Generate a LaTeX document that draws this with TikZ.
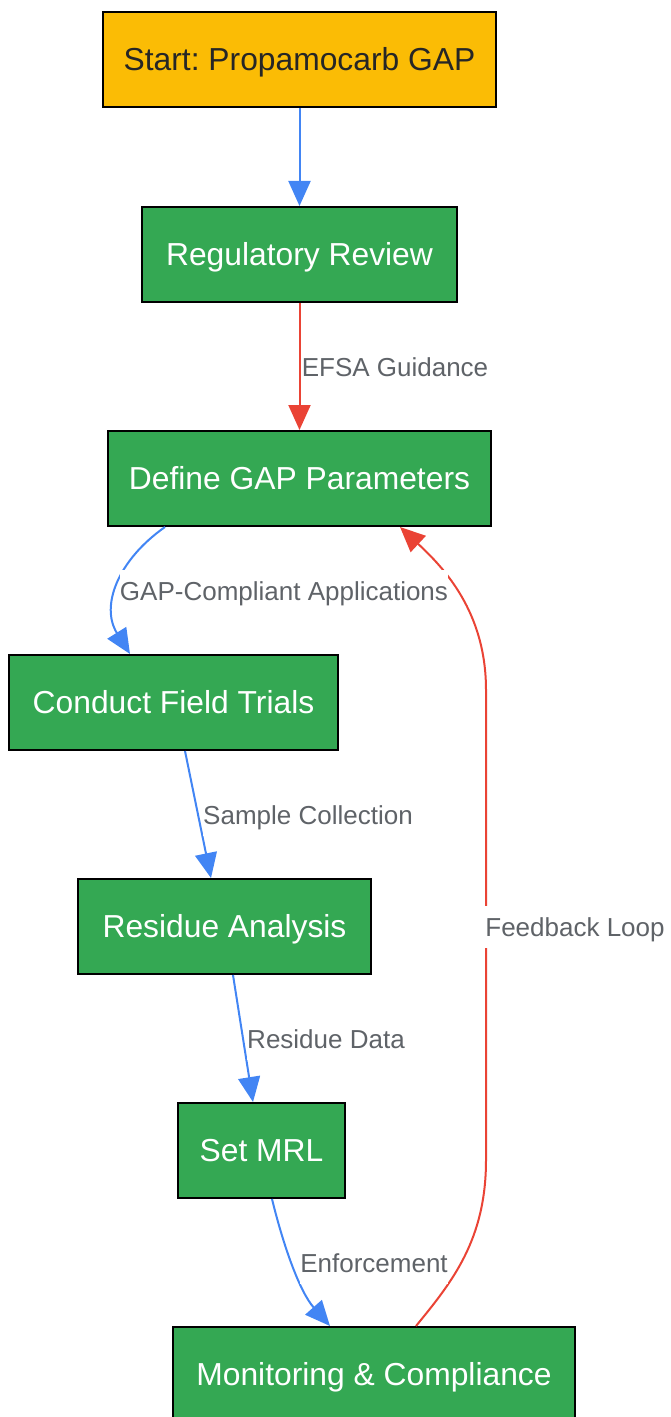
\documentclass[tikz,border=0pt]{standalone}
\usepackage{fontspec}
\setmainfont{Liberation Sans}
\usetikzlibrary{arrows.meta}
\frenchspacing

\definecolor{gapyellow}{HTML}{FBBC05}
\definecolor{gapgreen}{HTML}{34A853}
\definecolor{gapblue}{HTML}{4285F4}
\definecolor{gapred}{HTML}{EA4335}
\definecolor{labelgray}{HTML}{5F6368}

\begin{document}
\begin{tikzpicture}[x=0.5pt, y=-0.5pt, >={Triangle[length=12.5pt,width=11pt]}]
\tikzset{ stage/.style={draw=black, line width=1pt, fill=gapgreen, text=white,
                        minimum height=47.5pt, inner sep=0pt,
                        text height=11.4pt, text depth=0pt,
                        font=\fontsize{15.9}{19}\selectfont},
          flow/.style={->, line width=1pt, draw=gapblue},
          back/.style={->, line width=1pt, draw=gapred},
          tag/.style={fill=white, text=labelgray, inner xsep=0pt, inner ysep=6pt,
                      text height=9.3pt, text depth=0pt,
                      font=\fontsize{13}{15.6}\selectfont} };

\useasboundingbox (0,0) rectangle (670,1417);

\node[stage, fill=gapyellow, text=black!85, minimum width=196.5pt] (start) at (299.5,59.5) {Start: Propamocarb GAP};
\node[stage, minimum width=157.5pt] (review) at (299.5,254.5) {Regulatory Review};
\node[stage, minimum width=191.5pt] (define) at (299.5,478.5) {Define GAP Parameters};
\node[stage, minimum width=164.5pt] (trials) at (173.5,702.5) {Conduct Field Trials};
\node[stage, minimum width=146.5pt] (residue) at (224.5,926.5) {Residue Analysis};
\node[stage, minimum width=83.5pt] (mrl) at (261.5,1150.5) {Set MRL};
\node[stage, minimum width=201pt] (monitor) at (374,1374.5) {Monitoring \& Compliance};

\draw[flow] (start) -- (review);
\draw[back] (review) -- (define);
\draw[flow] ([xshift=-67.25pt]define.south) .. controls (118,560) and (100,606) .. ([xshift=-21.75pt]trials.north);
\draw[flow] ([xshift=5.75pt]trials.south) -- ([xshift=-6.75pt]residue.north);
\draw[flow] ([xshift=4.25pt]residue.south) -- ([xshift=-4.25pt]mrl.north);
\draw[flow] ([xshift=5.25pt]mrl.south) .. controls (284,1248) and (300,1292) .. ([xshift=-22pt]monitor.north);
\draw[back] ([xshift=21pt]monitor.north) .. controls (452,1282) and (486,1240) .. (486,1160)
            -- (486,690) .. controls (486,612) and (444,568) .. ([xshift=50.25pt]define.south);

\node[tag] (efsa) at (395,367) {EFSA Guidance};
\node[tag] (apps) at (284,591) {GAP-Compliant Applications};
\node[tag] (sample) at (308,815) {Sample Collection};
\node[tag] (data) at (326,1039) {Residue Data};
\node[tag] (enforce) at (374,1263) {Enforcement};
\node[tag] (loop) at (575,927) {Feedback Loop};

\end{tikzpicture}
\end{document}
